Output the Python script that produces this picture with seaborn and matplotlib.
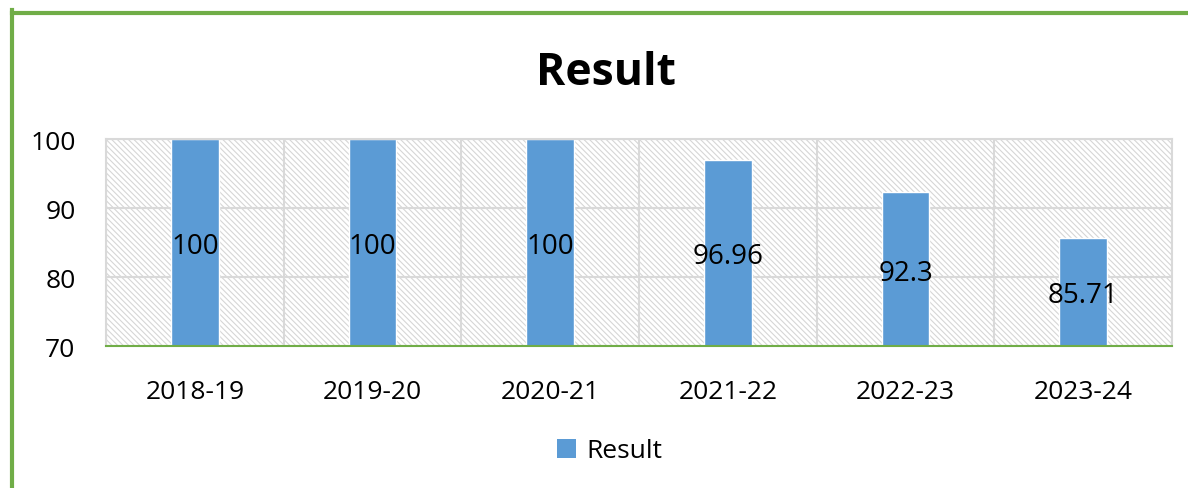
import numpy as np
import pandas as pd
import matplotlib.pyplot as plt
import seaborn as sns
from matplotlib.patches import Rectangle
from matplotlib.lines import Line2D

years = ["2018-19", "2019-20", "2020-21", "2021-22", "2022-23", "2023-24"]
results = [100, 100, 100, 96.96, 92.3, 85.71]
value_labels = ["100", "100", "100", "96.96", "92.3", "85.71"]
y_ticks = [70, 80, 90, 100]

bar_color = "#5B9BD5"
green = "#70AD47"
grid_gray = "#D9D9D9"

sns.set_theme(style="white")
plt.rcParams["font.family"] = ["Open Sans", "DejaVu Sans"]
plt.rcParams["hatch.linewidth"] = 0.8
plt.rcParams["text.color"] = "black"

df = pd.DataFrame({"year": years, "result": results})

fig = plt.figure(figsize=(11.88, 4.89), dpi=100)
ax = fig.add_axes([106 / 1188, 1 - 347 / 489, (1172 - 106) / 1188, (347 - 140) / 489])

# hatched plot background
bg = Rectangle((0, 0), 1, 1, transform=ax.transAxes, facecolor="white",
               edgecolor="#D6D6D6", hatch="\\\\\\\\\\\\", linewidth=0, zorder=0.1)
ax.add_patch(bg)

sns.barplot(data=df, x="year", y="result", color=bar_color, saturation=1,
            width=0.27, ax=ax, zorder=2)

ax.set_ylim(70, 100)
ax.set_xlim(-0.5, len(years) - 0.5)
ax.set_yticks(y_ticks)
ax.set_xticks(np.arange(len(years)))
ax.set_xticklabels(years)
ax.set_xticks(np.arange(len(years) + 1) - 0.5, minor=True)
ax.set_axisbelow(True)
ax.grid(axis="y", which="major", color=grid_gray, linewidth=1.5, zorder=0.5)
ax.grid(axis="x", which="minor", color=grid_gray, linewidth=1.5, zorder=0.5)
ax.grid(axis="x", which="major", visible=False)
ax.tick_params(axis="both", which="both", length=0, labelsize=19, colors="black")
ax.tick_params(axis="x", pad=24)
ax.tick_params(axis="y", pad=22)
ax.set_xlabel("")
ax.set_ylabel("")

for side in ["top", "right", "left"]:
    ax.spines[side].set_color(grid_gray)
    ax.spines[side].set_linewidth(1.5)
ax.spines["bottom"].set_color(green)
ax.spines["bottom"].set_linewidth(1.5)
ax.spines["bottom"].set_zorder(3)

# value labels centred in the visible part of each bar
for i, (v, lab) in enumerate(zip(results, value_labels)):
    ax.text(i, (70 + v) / 2, lab, ha="center", va="center_baseline", fontsize=20,
            color="black", zorder=4)

fig.suptitle("Result", x=606 / 1188, y=1 - 74 / 489, va="center",
             fontsize=32, fontweight="bold", color="black")

handles = [Rectangle((0, 0), 1, 1, facecolor=bar_color, edgecolor="none")]
fig.legend(handles, ["Result"], loc="center", bbox_to_anchor=(610 / 1188, 1 - 452 / 489),
           frameon=False, fontsize=19, handlelength=0.7, handleheight=0.7,
           handletextpad=0.4)

# green frame on top and left edges
fig.add_artist(Line2D([11.5 / 1188, 11.5 / 1188], [0, 1 - 11 / 489],
                      transform=fig.transFigure, color=green, linewidth=3,
                      solid_capstyle="projecting"))
fig.add_artist(Line2D([11.5 / 1188, 1], [1 - 13.5 / 489, 1 - 13.5 / 489],
                      transform=fig.transFigure, color=green, linewidth=3,
                      solid_capstyle="projecting"))

fig.savefig("out.png", dpi=100, facecolor="white")
